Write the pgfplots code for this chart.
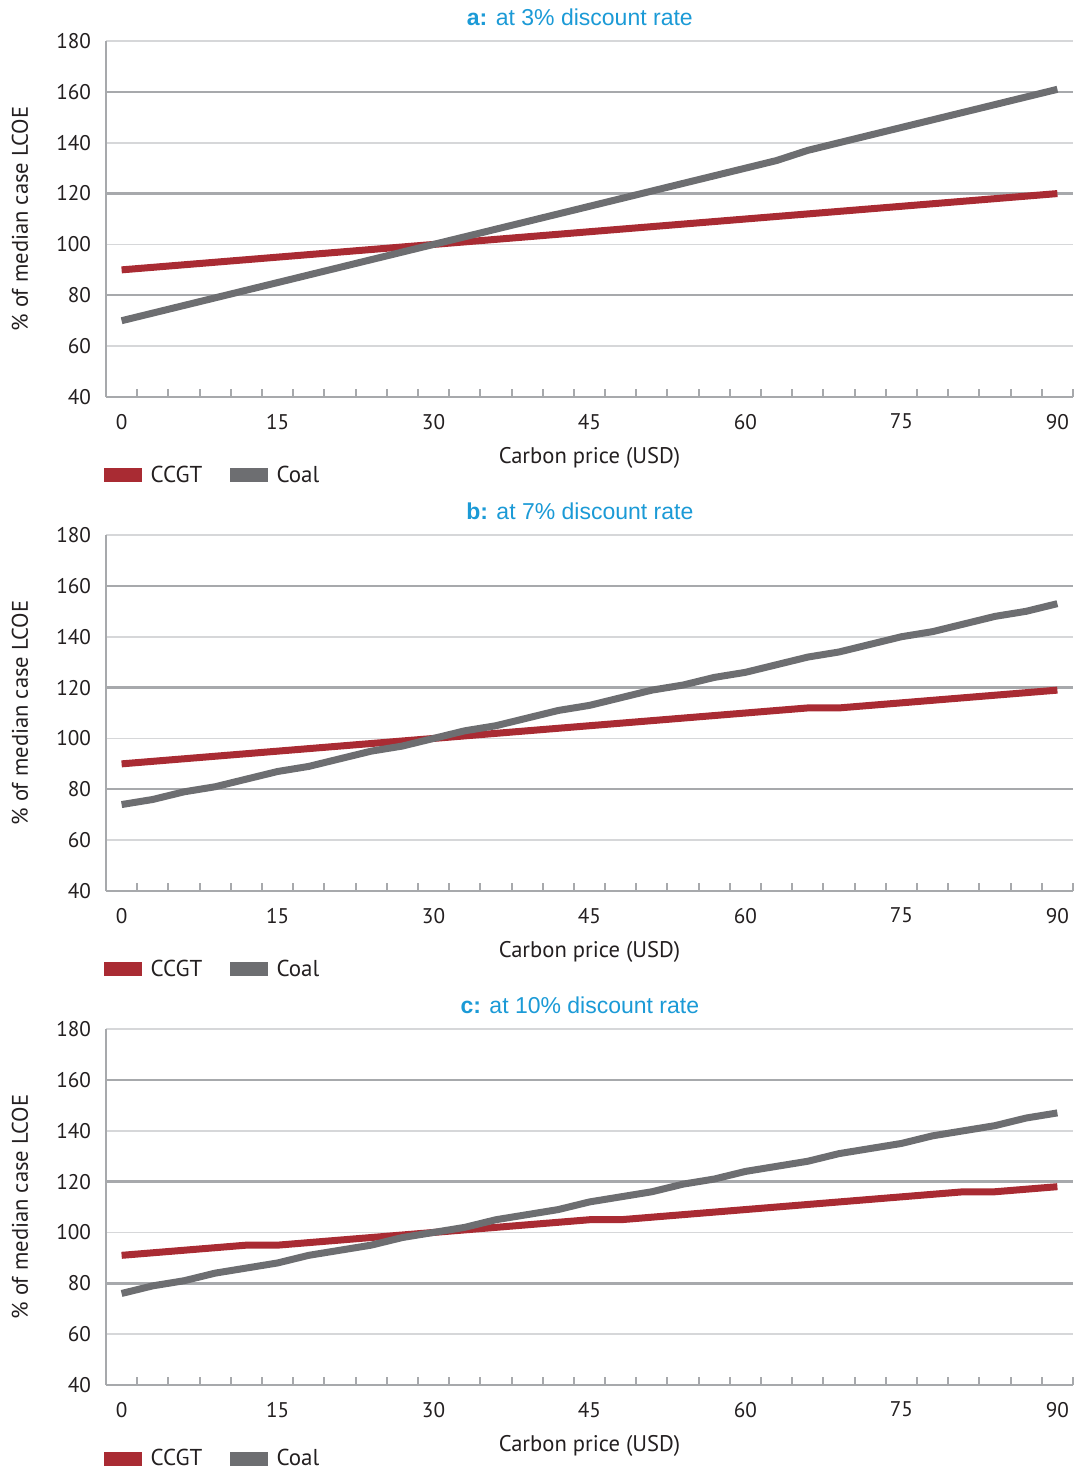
\documentclass[border=0pt]{standalone}
\usepackage{fontspec}
\setmainfont{PT Sans}
\newfontfamily\titlefont{Liberation Sans}
\usepackage{pgfplots}
\usepackage{pgfplotstable}
\pgfplotsset{compat=1.18}
\definecolor{ccgt}{HTML}{A92B33}
\definecolor{coal}{HTML}{6D6E71}
\definecolor{gridlight}{HTML}{D6D7D9}
\definecolor{griddark}{HTML}{A7A9AC}
\definecolor{txt}{HTML}{231F20}
\definecolor{ttl}{HTML}{1B9AD6}

\pgfplotstableread{
x ccgt coal
0 90 70
3 91 73
6 92 76
9 93 79
12 94 82
15 95 85
18 96 88
21 97 91
24 98 94
27 99 97
30 100 100
33 101 103
36 102 106
39 103 109
42 104 112
45 105 115
48 106 118
51 107 121
54 108 124
57 109 127
60 110 130
63 111 133
66 112 137
69 113 140
72 114 143
75 115 146
78 116 149
81 117 152
84 118 155
87 119 158
90 120 161
}\dataA

\pgfplotstableread{
x ccgt coal
0 90 74
3 91 76
6 92 79
9 93 81
12 94 84
15 95 87
18 96 89
21 97 92
24 98 95
27 99 97
30 100 100
33 101 103
36 102 105
39 103 108
42 104 111
45 105 113
48 106 116
51 107 119
54 108 121
57 109 124
60 110 126
63 111 129
66 112 132
69 112 134
72 113 137
75 114 140
78 115 142
81 116 145
84 117 148
87 118 150
90 119 153
}\dataB

\pgfplotstableread{
x ccgt coal
0 91 76
3 92 79
6 93 81
9 94 84
12 95 86
15 95 88
18 96 91
21 97 93
24 98 95
27 99 98
30 100 100
33 101 102
36 102 105
39 103 107
42 104 109
45 105 112
48 105 114
51 106 116
54 107 119
57 108 121
60 109 124
63 110 126
66 111 128
69 112 131
72 113 133
75 114 135
78 115 138
81 116 140
84 116 142
87 117 145
90 118 147
}\dataC

\pgfplotsset{
 panel/.style={
  scale only axis, width=483.5pt, height=178pt,
  xmin=-1.5, xmax=91.5, ymin=40, ymax=180,
  axis x line*=bottom, axis y line*=left,
  axis line style={griddark, line width=1.2pt, -},
  xtick={0,15,...,90}, minor xtick={1.5,4.5,...,91.5},
  ytick={40,60,...,180},
  major tick length=0pt, minor tick length=4pt, tick align=inside,
  minor tick style={griddark, line width=1pt},
  ymajorgrids, grid style={gridlight, line width=0.9pt},
  extra y ticks={80,120,160}, extra y tick labels={},
  extra y tick style={grid style={griddark, line width=1.2pt}},
  tick label style={font=\fontsize{10.6}{12}\selectfont, text=txt},
  /pgf/number format/assume math mode=true,
  yticklabel style={xshift=-4pt},
  xticklabel style={yshift=-5pt},
  xlabel={Carbon price (USD)}, ylabel={\% of median case LCOE},
  label style={font=\fontsize{11.3}{13}\selectfont, text=txt},
  xlabel style={at={(axis description cs:0.5,-0.171)}, anchor=center},
  ylabel style={at={(axis description cs:-0.089,0.5)}, anchor=center},
  title style={at={(axis description cs:0.49,1.034)}, anchor=center, font=\titlefont\fontsize{11.5}{13}\selectfont, text=ttl},
  legend columns=2,
  legend style={at={(axis description cs:-0.002,-0.22)}, anchor=west, draw=none, fill=none, inner sep=0pt, font=\fontsize{11.5}{13}\selectfont, text=txt, /tikz/every even column/.append style={column sep=12pt}},
  legend image code/.code={\fill[#1, draw=none] (0pt,-3.5pt) rectangle (19pt,3.5pt); \path (19.3pt,0pt);},
  every axis plot/.append style={line width=3.5pt},
 }
}

\begin{document}
\begin{tikzpicture}
\path[use as bounding box] (0,0) rectangle (539pt,-736pt);
\begin{axis}[panel, at={(53pt,-198.5pt)}, anchor=south west, title={\textbf{a:} at 3\% discount rate}]
\addplot[ccgt] table[x=x, y=ccgt] {\dataA};
\addplot[coal] table[x=x, y=coal] {\dataA};
\legend{CCGT, Coal}
\end{axis}
\begin{axis}[panel, at={(53pt,-445.5pt)}, anchor=south west, title={\textbf{b:} at 7\% discount rate}]
\addplot[ccgt] table[x=x, y=ccgt] {\dataB};
\addplot[coal] table[x=x, y=coal] {\dataB};
\legend{CCGT, Coal}
\end{axis}
\begin{axis}[panel, at={(53pt,-692.5pt)}, anchor=south west, title={\textbf{c:} at 10\% discount rate}, legend style={at={(axis description cs:-0.002,-0.207)}}]
\addplot[ccgt] table[x=x, y=ccgt] {\dataC};
\addplot[coal] table[x=x, y=coal] {\dataC};
\legend{CCGT, Coal}
\end{axis}
\end{tikzpicture}
\end{document}
